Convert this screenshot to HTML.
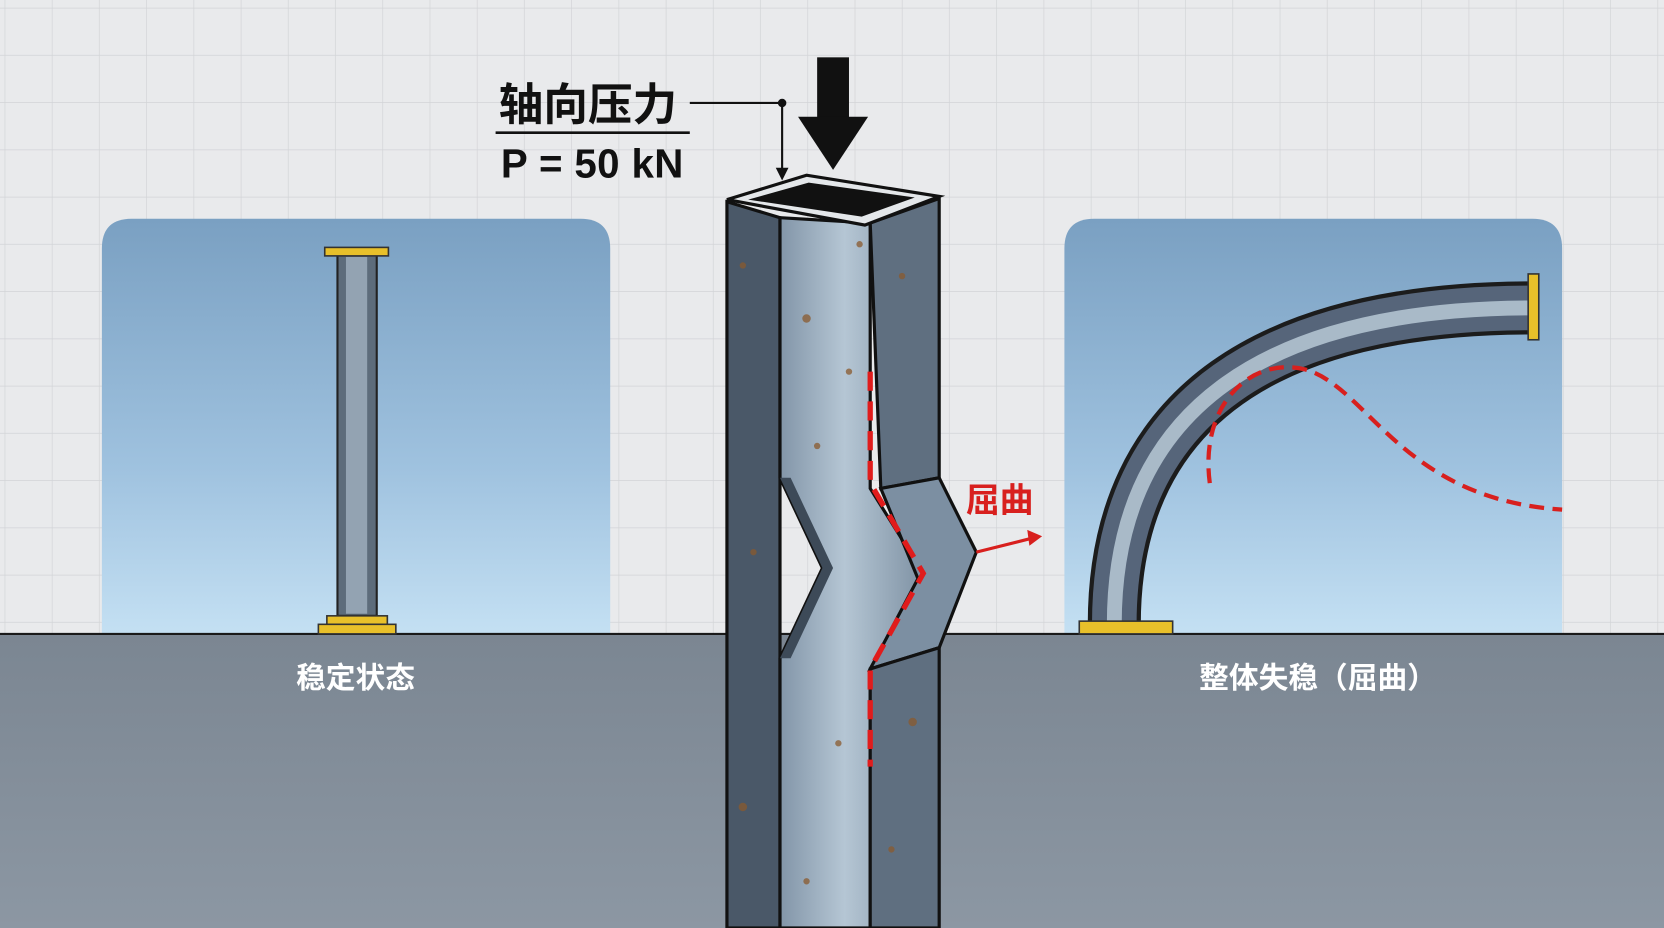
<!DOCTYPE html>
<html><head><meta charset="utf-8"><style>
html,body{margin:0;padding:0;width:1664px;height:928px;overflow:hidden;background:#e9eaec}
svg{display:block}
text{font-family:"Liberation Sans","Noto Sans CJK SC",sans-serif;font-weight:bold}
</style></head><body>
<svg width="1664" height="928" viewBox="0 0 1568 874" preserveAspectRatio="none" xmlns="http://www.w3.org/2000/svg">
<defs>
<pattern id="grid" width="44.5" height="44.5" patternUnits="userSpaceOnUse" x="5" y="8">
<path d="M44.5 0V44.5M0 44.5H44.5" fill="none" stroke="#d2d4d7" stroke-width="1.3"/></pattern>
<linearGradient id="sky" x1="0" y1="0" x2="0" y2="1"><stop offset="0" stop-color="#7aa0c2"/><stop offset="0.6" stop-color="#9fc2df"/><stop offset="1" stop-color="#c4e0f3"/></linearGradient>
<linearGradient id="gnd" x1="0" y1="0" x2="0" y2="1"><stop offset="0" stop-color="#7b8692"/><stop offset="1" stop-color="#8c97a3"/></linearGradient>
<linearGradient id="mid" x1="0" y1="0" x2="1" y2="0"><stop offset="0" stop-color="#8295a8"/><stop offset="0.45" stop-color="#b5c6d4"/><stop offset="1" stop-color="#7f92a4"/></linearGradient>
</defs>
<rect width="1568" height="874" fill="#e9eaec"/>
<rect width="1568" height="597" fill="url(#grid)"/>
<path d="M96 597V234Q96 206 124 206H547Q575 206 575 234V597Z" fill="url(#sky)"/>
<path d="M1003 597V234Q1003 206 1031 206H1444Q1472 206 1472 234V597Z" fill="url(#sky)"/>
<rect x="0" y="597" width="1568" height="277" fill="url(#gnd)"/>
<line x1="0" y1="597" x2="1568" y2="597" stroke="#1a1a1a" stroke-width="2"/>
<rect x="318" y="240" width="37" height="340" fill="#5d6c7b" stroke="#222" stroke-width="2"/>
<rect x="326" y="242" width="20" height="336" fill="#93a3b2"/>
<rect x="306" y="233" width="60" height="8" fill="#e8c02a" stroke="#333" stroke-width="1.5"/>
<rect x="308" y="580" width="57" height="8" fill="#e8c02a" stroke="#333" stroke-width="1.5"/>
<rect x="300" y="588" width="73" height="9" fill="#e8c02a" stroke="#333" stroke-width="1.5"/>
<path d="M1050 588C1050 380 1200 290 1445 290" fill="none" stroke="#1c1c1c" stroke-width="50"/>
<path d="M1050 588C1050 380 1200 290 1445 290" fill="none" stroke="#56657a" stroke-width="42"/>
<path d="M1050 588C1050 380 1200 290 1445 290" fill="none" stroke="#a9bac8" stroke-width="14"/>
<rect x="1440" y="258" width="10" height="62" fill="#e8c02a" stroke="#333" stroke-width="1.5"/>
<rect x="1017" y="585" width="88" height="12" fill="#e8c02a" stroke="#333" stroke-width="1.5"/>
<path d="M1140 455C1130 380 1180 335 1230 348C1290 365 1320 470 1472 480" fill="none" stroke="#d8201e" stroke-width="4" stroke-dasharray="14 8"/>
<polygon points="685,190 735,205 735,874 685,874" fill="#4a5868" stroke="#111" stroke-width="3"/>
<polygon points="735,205 820,210 820,460 870,540 820,630 820,874 735,874 735,620 775,535 735,450" fill="url(#mid)" stroke="#111" stroke-width="3"/>
<polygon points="820,210 885,187 885,450 830,460" fill="#5f6f80" stroke="#111" stroke-width="3"/>
<polygon points="830,460 885,450 920,520 885,610 820,630 865,545" fill="#7c8fa2" stroke="#111" stroke-width="3"/>
<polygon points="820,630 885,610 885,874 820,874" fill="#5f6f80" stroke="#111" stroke-width="3"/>
<polygon points="735,450 775,535 735,620 745,620 785,535 745,450" fill="#3d4a58"/>
<polygon points="685,188 760,165 885,185 815,212" fill="#e4e7ea" stroke="#111" stroke-width="3"/>
<polygon points="705,188 762,172 862,186 812,204" fill="#111"/>
<g fill="#8a5a2e" opacity="0.75">
<circle cx="700" cy="250" r="3"/><circle cx="760" cy="300" r="4"/><circle cx="800" cy="350" r="3"/><circle cx="850" cy="260" r="3"/><circle cx="770" cy="420" r="3"/><circle cx="710" cy="520" r="3"/><circle cx="860" cy="680" r="4"/><circle cx="790" cy="700" r="3"/><circle cx="700" cy="760" r="4"/><circle cx="760" cy="830" r="3"/><circle cx="840" cy="800" r="3"/><circle cx="810" cy="230" r="3"/>
</g>
<path d="M820 350V455L870 540L820 630V722" fill="none" stroke="#e01c1c" stroke-width="5" stroke-dasharray="18 10"/>
<path d="M920 520L972 507" stroke="#d8201e" stroke-width="3"/>
<polygon points="982,505 968,499 970,514" fill="#d8201e"/>
<text x="910" y="482" font-size="32" fill="#d8201e">屈曲</text>
<rect x="770" y="54" width="30" height="58" fill="#111"/>
<polygon points="752,110 818,110 785,160" fill="#111"/>
<text x="470" y="113" font-size="42" fill="#111">轴向压力</text>
<line x1="467" y1="125" x2="650" y2="125" stroke="#111" stroke-width="2.5"/>
<text x="472" y="167" font-size="38" fill="#111" textLength="172">P = 50 kN</text>
<path d="M650 97H737V160" fill="none" stroke="#111" stroke-width="2"/>
<circle cx="737" cy="97" r="4" fill="#111"/>
<polygon points="731,158 743,158 737,170" fill="#111"/>
<text x="335" y="648" font-size="28" fill="#fff" text-anchor="middle">稳定状态</text>
<text x="1242" y="648" font-size="28" fill="#fff" text-anchor="middle">整体失稳（屈曲）</text>
</svg>
</body></html>
